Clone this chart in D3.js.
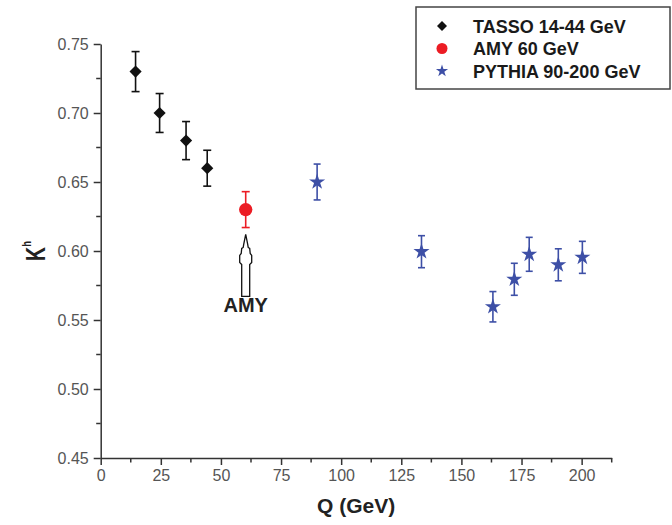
<!DOCTYPE html>
<html>
<head>
<meta charset="utf-8">
<script src="https://cdn.jsdelivr.net/npm/d3@7"></script>
<style>
  body { margin: 0; background: #fff; }
  svg { display: block; font-family: "Liberation Sans", Arial, sans-serif; }
</style>
</head>
<body>
<svg id="chart" width="672" height="525"></svg>
<script>
const width = 672;
const height = 525;

// TASSO 14-44 GeV
const tassoQ = [14.5, 24.5, 35.5, 44.3];
const tassoK = [0.730, 0.700, 0.680, 0.660];
const tassoErr = [0.0145, 0.0141, 0.0138, 0.013];

// AMY 60 GeV
const amyQ = [60.3];
const amyK = [0.630];
const amyErr = [0.013];

// PYTHIA 90-200 GeV
const pythiaQ = [90, 133.4, 163.1, 172, 178.2, 190.3, 200.3];
const pythiaK = [0.650, 0.5995, 0.5596, 0.5795, 0.5976, 0.590, 0.5954];
const pythiaErr = [0.013, 0.0116, 0.011, 0.0116, 0.0123, 0.0116, 0.0116];

const xTicks = [0, 25, 50, 75, 100, 125, 150, 175, 200];
const yTicks = [0.45, 0.50, 0.55, 0.60, 0.65, 0.70, 0.75];
const legendLabels = ["TASSO 14-44 GeV", "AMY 60 GeV", "PYTHIA 90-200 GeV"];

const colors = { tasso: "#111111", amy: "#ec1c24", pythia: "#3d4fa6" };

const svg = d3.select("#chart");

const x = d3.scaleLinear().domain([0, 212.5]).range([100.7, 611.7]);
const y = d3.scaleLinear().domain([0.45, 0.75]).range([458, 44]);

const axisColor = "#333";

// minor ticks
const xMinor = d3.range(12.5, 213, 25);
const yMinor = d3.range(0.475, 0.75, 0.05);

const xAxisG = svg.append("g").attr("transform", `translate(0,${y(0.45)})`);
xAxisG.call(d3.axisBottom(x).tickValues(xTicks).tickSize(7).tickSizeOuter(0).tickFormat(d3.format("d")));
xAxisG.selectAll(".minor").data(xMinor).join("line")
  .attr("class", "minor")
  .attr("x1", d => x(d)).attr("x2", d => x(d))
  .attr("y1", 0).attr("y2", 4.5);

const yAxisG = svg.append("g").attr("transform", `translate(${x(0)},0)`);
yAxisG.call(d3.axisLeft(y).tickValues(yTicks).tickSize(7).tickSizeOuter(0).tickFormat(d3.format(".2f")));
yAxisG.selectAll(".minor").data(yMinor).join("line")
  .attr("class", "minor")
  .attr("y1", d => y(d)).attr("y2", d => y(d))
  .attr("x1", 0).attr("x2", -4.5);

[xAxisG, yAxisG].forEach(g => {
  g.select(".domain").attr("stroke", axisColor).attr("stroke-width", 1.5);
  g.selectAll("line").attr("stroke", axisColor).attr("stroke-width", 1.5);
  g.selectAll("text").attr("fill", "#555").attr("font-size", 16)
    .attr("font-family", "Liberation Sans, Arial, sans-serif");
});
xAxisG.selectAll(".tick text").attr("y", 12);
yAxisG.selectAll(".tick text").attr("x", -12);

// axis titles
svg.append("text")
  .attr("x", (x(0) + x(212.5)) / 2)
  .attr("y", 513)
  .attr("text-anchor", "middle")
  .attr("font-size", 21)
  .attr("font-weight", "bold")
  .attr("fill", "#222")
  .text("Q (GeV)");

const yTitle = svg.append("text")
  .attr("transform", `translate(45,${y(0.60)}) rotate(-90) scale(0.72,1)`)
  .attr("text-anchor", "middle")
  .attr("font-size", 27)
  .attr("font-weight", "bold")
  .attr("fill", "#222");
yTitle.append("tspan").text("K");
yTitle.append("tspan").attr("font-size", 13).attr("dy", -14).text("h");

// error bars + markers
function drawSeries(qs, ks, errs, color, symbol, size, rotate, cap) {
  const data = qs.map((q, i) => ({ q, k: ks[i], e: errs[i] }));
  const g = svg.append("g");
  const eb = g.selectAll(".eb").data(data).join("g").attr("class", "eb")
    .attr("stroke", color).attr("stroke-width", 1.6);
  eb.append("line")
    .attr("x1", d => x(d.q)).attr("x2", d => x(d.q))
    .attr("y1", d => y(d.k + d.e)).attr("y2", d => y(d.k - d.e));
  eb.append("line")
    .attr("x1", d => x(d.q) - cap).attr("x2", d => x(d.q) + cap)
    .attr("y1", d => y(d.k + d.e)).attr("y2", d => y(d.k + d.e));
  eb.append("line")
    .attr("x1", d => x(d.q) - cap).attr("x2", d => x(d.q) + cap)
    .attr("y1", d => y(d.k - d.e)).attr("y2", d => y(d.k - d.e));
  g.selectAll(".pt").data(data).join("path").attr("class", "pt")
    .attr("d", d3.symbol().type(symbol).size(size))
    .attr("transform", d => `translate(${x(d.q)},${y(d.k)}) rotate(${rotate})`)
    .attr("fill", color);
}

drawSeries(tassoQ, tassoK, tassoErr, colors.tasso, d3.symbolSquare, 74, 45, 4);
drawSeries(amyQ, amyK, amyErr, colors.amy, d3.symbolCircle, 140, 0, 4);
drawSeries(pythiaQ, pythiaK, pythiaErr, colors.pythia, d3.symbolStar, 80, 0, 3.5);

// AMY arrow annotation
const ax = x(amyQ[0]);
const ay = y(0.612);
const arrowPts = [
  [0, 0], [2, 10], [2.5, 13], [4, 14], [4.5, 19], [6, 21], [6, 28], [4, 30], [4, 62],
  [-4, 62], [-4, 30], [-6, 28], [-6, 21], [-4.5, 19], [-4, 14], [-2.5, 13], [-2, 10]
];
svg.append("path")
  .attr("d", d3.line()(arrowPts.map(p => [ax + p[0], ay + p[1]])) + "Z")
  .attr("fill", "#fff")
  .attr("stroke", "#111")
  .attr("stroke-width", 1.3);

svg.append("text")
  .attr("x", ax)
  .attr("y", ay + 78)
  .attr("text-anchor", "middle")
  .attr("font-size", 20)
  .attr("font-weight", "bold")
  .attr("fill", "#222")
  .text("AMY");

// legend
const legend = svg.append("g");
legend.append("rect")
  .attr("x", 416).attr("y", 7).attr("width", 254).attr("height", 82)
  .attr("fill", "#fff").attr("stroke", "#444").attr("stroke-width", 1.5);

const legendItems = [
  { label: legendLabels[0], color: colors.tasso, symbol: d3.symbolSquare, size: 50, rot: 45 },
  { label: legendLabels[1], color: colors.amy, symbol: d3.symbolCircle, size: 95, rot: 0 },
  { label: legendLabels[2], color: colors.pythia, symbol: d3.symbolStar, size: 46, rot: 0 }
];
const rowY = d3.scalePoint().domain(legendLabels).range([26, 71]);
const li = legend.selectAll(".li").data(legendItems).join("g")
  .attr("transform", d => `translate(0,${rowY(d.label)})`);
li.append("path")
  .attr("d", d => d3.symbol().type(d.symbol).size(d.size)())
  .attr("transform", d => `translate(442,0) rotate(${d.rot})`)
  .attr("fill", d => d.color);
li.append("text")
  .attr("x", 473).attr("y", 6.5)
  .attr("font-size", 18)
  .attr("font-weight", "bold")
  .attr("fill", "#1a1a1a")
  .text(d => d.label);
</script>
</body>
</html>
